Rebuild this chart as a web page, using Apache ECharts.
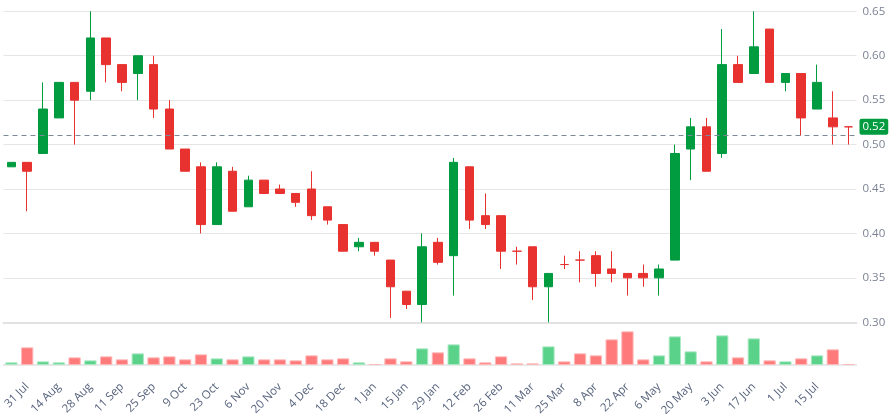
<!DOCTYPE html>
<html>
<head>
<meta charset="utf-8">
<script src="https://cdn.jsdelivr.net/npm/echarts@6/dist/echarts.min.js"></script>
<style>
html,body{margin:0;padding:0;background:#fff;}
#chart{width:892px;height:414px;}
</style>
</head>
<body>
<div id="chart"></div>
<script>
// weekly bars, week starting
var weeks = ['24 Jul','31 Jul','7 Aug','14 Aug','21 Aug','28 Aug','4 Sep','11 Sep','18 Sep','25 Sep',
  '2 Oct','9 Oct','16 Oct','23 Oct','30 Oct','6 Nov','13 Nov','20 Nov','27 Nov','4 Dec',
  '11 Dec','18 Dec','25 Dec','1 Jan','8 Jan','15 Jan','22 Jan','29 Jan','5 Feb','12 Feb',
  '19 Feb','26 Feb','4 Mar','11 Mar','18 Mar','25 Mar','1 Apr','8 Apr','15 Apr','22 Apr',
  '29 Apr','6 May','13 May','20 May','27 May','3 Jun','10 Jun','17 Jun','24 Jun','1 Jul',
  '8 Jul','15 Jul','22 Jul','29 Jul'];
var opens  = [0.475,0.48,0.49,0.53,0.57,0.56,0.62,0.59,0.58,0.59,
  0.54,0.495,0.475,0.41,0.47,0.43,0.46,0.45,0.445,0.45,
  0.43,0.41,0.385,0.39,0.37,0.335,0.32,0.39,0.375,0.475,
  0.42,0.42,0.38,0.385,0.34,0.365,0.37,0.375,0.36,0.355,
  0.355,0.35,0.37,0.495,0.52,0.49,0.59,0.58,0.63,0.57,
  0.58,0.54,0.53,0.52];
var closes = [0.48,0.47,0.54,0.57,0.55,0.62,0.59,0.57,0.60,0.54,
  0.495,0.47,0.41,0.475,0.425,0.46,0.445,0.445,0.435,0.42,
  0.415,0.38,0.39,0.38,0.34,0.32,0.385,0.3675,0.48,0.415,
  0.41,0.38,0.38,0.34,0.355,0.365,0.37,0.355,0.355,0.35,
  0.35,0.36,0.49,0.52,0.47,0.59,0.57,0.61,0.57,0.58,
  0.53,0.57,0.52,0.52];
var lows   = [0.475,0.425,0.49,0.53,0.50,0.55,0.57,0.56,0.55,0.53,
  0.495,0.47,0.40,0.41,0.425,0.43,0.445,0.445,0.43,0.415,
  0.41,0.38,0.38,0.375,0.305,0.315,0.30,0.365,0.33,0.405,
  0.405,0.36,0.365,0.325,0.30,0.36,0.345,0.34,0.345,0.33,
  0.34,0.33,0.37,0.46,0.47,0.485,0.57,0.58,0.57,0.56,
  0.51,0.54,0.50,0.50];
var highs  = [0.48,0.48,0.57,0.57,0.57,0.65,0.62,0.59,0.60,0.60,
  0.55,0.495,0.48,0.48,0.475,0.465,0.46,0.455,0.445,0.47,
  0.43,0.41,0.395,0.39,0.37,0.335,0.40,0.395,0.485,0.475,
  0.445,0.42,0.385,0.385,0.355,0.375,0.38,0.38,0.38,0.355,
  0.365,0.365,0.50,0.53,0.53,0.63,0.60,0.65,0.63,0.58,
  0.58,0.59,0.56,0.52];
var volumes = [8,53,11,8,23,14,26,17,35,23,
  26,17,32,20,17,26,17,17,14,29,
  17,20,8,3,20,11,50,38,62,20,
  8,26,5,5,56,11,35,29,77,101,
  17,29,86,41,11,89,23,80,14,11,
  20,29,47,3];
var yTicks = [0.30,0.35,0.40,0.45,0.50,0.55,0.60,0.65];
var refPrice = 0.51;
var lastPrice = 0.52;

var UP = '#019b40', DOWN = '#e8322f';

var chart = echarts.init(document.getElementById('chart'));

var candles = weeks.map(function(w, i){
  return [opens[i], closes[i], lows[i], highs[i]];
});
var vols = volumes.map(function(v, i){
  var up = closes[i] > opens[i];
  return {
    value: v,
    itemStyle: {
      color: up ? '#5ad28a' : '#ff7b7b',
      borderColor: up ? '#aee9c5' : '#ffb9b9',
      borderWidth: 1
    }
  };
});

chart.setOption({
  animation: false,
  textStyle: {fontFamily: 'Open Sans'},
  grid: [
    {left: 3.5, width: 853, top: 11.3, height: 311, outerBoundsMode: 'none'},
    {left: 3.5, width: 853, top: 325, height: 40, outerBoundsMode: 'none'}
  ],
  xAxis: [
    {
      type: 'category', gridIndex: 0, data: weeks, boundaryGap: true,
      axisLine: {show: true, lineStyle: {color: '#e2e2e2', width: 2}},
      axisTick: {show: false}, axisLabel: {show: false}, splitLine: {show: false}
    },
    {
      type: 'category', gridIndex: 1, data: weeks, boundaryGap: true,
      axisLine: {show: true, lineStyle: {color: '#e2e2e2', width: 1.5}},
      axisTick: {show: false},
      axisLabel: {
        rotate: 45, margin: 20, fontSize: 11.5, color: '#56627c',
        interval: function(i){ return i % 2 === 1 && i < 52; }
      },
      splitLine: {show: false}
    }
  ],
  yAxis: [
    {
      type: 'value', gridIndex: 0, position: 'right',
      min: yTicks[0], max: yTicks[yTicks.length - 1], interval: 0.05,
      axisLine: {show: false}, axisTick: {show: false},
      axisLabel: {margin: 6, fontSize: 11.5, color: '#7b8294', formatter: function(v){ return v.toFixed(2); }},
      splitLine: {lineStyle: {color: '#e6e6e6', width: 1}}
    },
    {
      type: 'value', gridIndex: 1, min: 0, max: 120,
      axisLine: {show: false}, axisTick: {show: false}, axisLabel: {show: false}, splitLine: {show: false}
    }
  ],
  series: [
    {
      type: 'candlestick', xAxisIndex: 0, yAxisIndex: 0, data: candles,
      barWidth: '57%',
      itemStyle: {
        color: UP, color0: DOWN, borderColor: UP, borderColor0: DOWN,
        borderColorDoji: DOWN, borderWidth: 1
      },
      markLine: {
        silent: true, symbol: 'none',
        data: [
          {yAxis: refPrice, lineStyle: {type: [5, 4], color: '#7d8898', width: 1}, label: {show: false}},
          {yAxis: lastPrice, lineStyle: {color: 'rgba(0,0,0,0)', width: 1}, label: {
            show: true, position: 'end', distance: 3,
            formatter: lastPrice.toFixed(2),
            backgroundColor: UP, color: '#fff', fontSize: 11.5,
            padding: [2, 3], borderRadius: 2
          }}
        ]
      }
    },
    {
      type: 'bar', xAxisIndex: 1, yAxisIndex: 1, data: vols, barWidth: '78%'
    }
  ]
});
</script>
</body>
</html>
